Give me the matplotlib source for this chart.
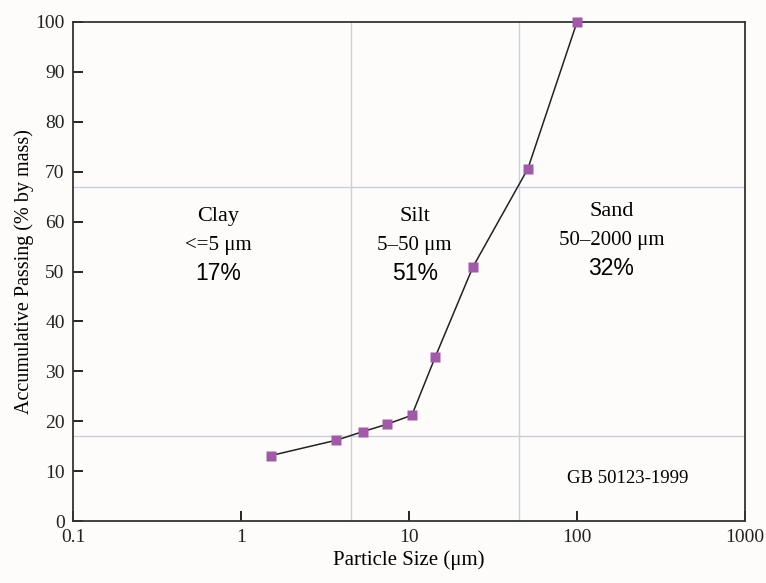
import numpy as np
import matplotlib.pyplot as plt

# particle size distribution
size_um = [1.5, 3.7, 5.3, 7.4, 10.4, 14.3, 24.0, 51.0, 100.0]
passing = [13.1, 16.2, 17.9, 19.4, 21.2, 32.8, 50.9, 70.6, 100.0]

# class boundaries
bound_x = [4.5, 45.0]
bound_y = [17, 67]

classes = ["Clay", "Silt", "Sand"]
ranges = ["<=5 \u03bcm", "5\u201350 \u03bcm", "50\u20132000 \u03bcm"]
fractions = ["17%", "51%", "32%"]
label_x = [0.73, 10.8, 160]
label_y = [61.0, 61.0, 62.0]

serif = ["Liberation Serif", "DejaVu Serif"]
sans = ["Liberation Sans", "DejaVu Sans"]

fig = plt.figure(figsize=(7.66, 5.83), dpi=100, facecolor="#fdfcfa")
ax = fig.add_axes([0.0953, 0.1063, 0.8773, 0.856])
ax.set_facecolor("#fdfcfa")

for bx in bound_x:
    ax.axvline(bx, color="#c9cfdd", lw=1, zorder=1)
for by in bound_y:
    ax.axhline(by, color="#c9cfdd", lw=1, zorder=1)

ax.plot(size_um, passing, color="#222222", lw=1.1, zorder=2)
ax.plot(size_um, passing, ls="none", marker="s", ms=7.5, color="#a05aa8",
        mec="none", zorder=3, clip_on=False)

for i in range(3):
    ax.text(label_x[i], label_y[i], classes[i], ha="center", va="center",
            fontsize=16, family=serif)
    ax.text(label_x[i], label_y[i] - 5.7, ranges[i], ha="center", va="center",
            fontsize=15, family=serif)
    ax.text(label_x[i], label_y[i] - 11.4, fractions[i], ha="center", va="center",
            fontsize=16.5, family=sans)

ax.text(200, 8.6, "GB 50123-1999", ha="center", va="center", fontsize=13.5, family=serif)

ax.set_xscale("log")
ax.set_xlim(0.1, 1000)
ax.set_ylim(0, 100)
ax.set_xticks([0.1, 1, 10, 100, 1000])
ax.set_xticklabels(["0.1", "1", "10", "100", "1000"])
ax.minorticks_off()
ax.set_yticks(range(0, 101, 10))
ax.tick_params(direction="in", length=7, width=1.2, labelsize=14, pad=6)
for lbl in ax.get_xticklabels() + ax.get_yticklabels():
    lbl.set_family(serif)
    lbl.set_color("#222222")
for s in ax.spines.values():
    s.set_linewidth(1.3)
    s.set_color("#333333")

ax.set_xlabel("Particle Size (\u03bcm)", fontsize=15, family=serif, labelpad=3)
ax.set_ylabel("Accumulative Passing (% by mass)", fontsize=14.5, family=serif, labelpad=1)

fig.savefig("out.png", dpi=100, facecolor=fig.get_facecolor())
